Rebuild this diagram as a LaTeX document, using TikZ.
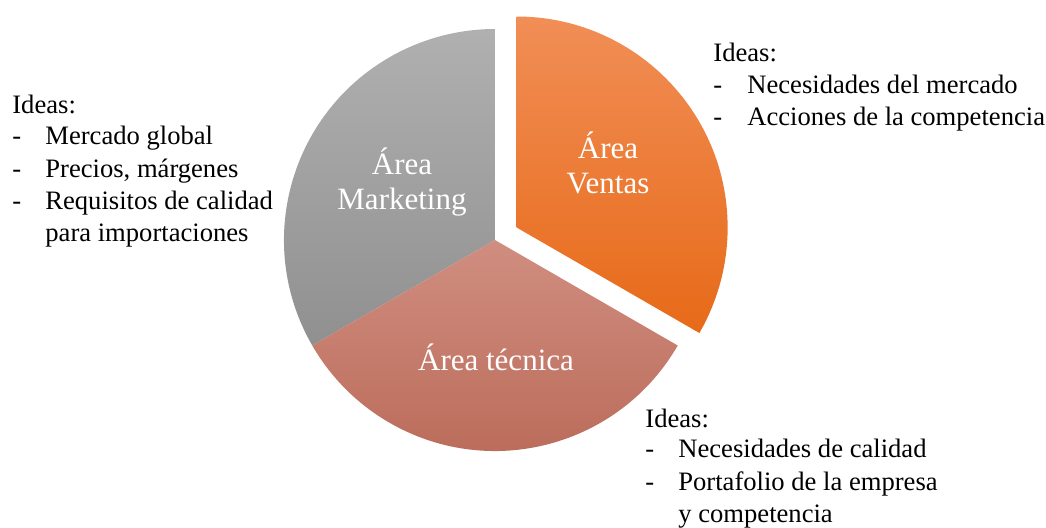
\documentclass[tikz,border=0pt]{standalone}
\usepackage{fontspec}
\setmainfont{Liberation Serif}
\usepackage{xcolor}
\definecolor{ventasA}{RGB}{241,142,86}
\definecolor{ventasB}{RGB}{231,106,24}
\definecolor{mktA}{RGB}{176,176,176}
\definecolor{mktB}{RGB}{144,144,144}
\definecolor{tecA}{RGB}{208,142,128}
\definecolor{tecB}{RGB}{185,104,86}

\begin{document}
\begin{tikzpicture}
  [x=0.5pt,y=0.5pt,every node/.style={inner sep=0pt,font=\fontsize{13.3}{16}\selectfont},
   slicetxt/.style={anchor=base,text=white,font=\fontsize{15.5}{17}\selectfont},
   idea/.style={anchor=base west}]
  \useasboundingbox (-495,-287) rectangle (551,240);

  % the three slices, ventas pulled out
  \shade [top color=mktA, bottom color=mktB] (0,0) -- (210:211) arc (210:90:211) -- cycle;
  \shade [top color=tecA, bottom color=tecB] (0,0) -- (-30:211) arc (-30:-150:211) -- cycle;
  \shade [top color=ventasA, bottom color=ventasB, shift={(30:25)}]
    (0,0) -- (90:211) arc (90:-30:211) -- cycle;

  \node [slicetxt] (mkA) at (-93,66) {Área};
  \node [slicetxt] (mkB) at (-93,31) {Marketing};
  \node [slicetxt] (veA) at (113,82) {Área};
  \node [slicetxt] (veB) at (113,47) {Ventas};
  \node [slicetxt] (tec) at (1,-130) {Área técnica};

  % ideas marketing
  \node [idea] (mk0) at (-483,127) {Ideas:};
  \foreach \y/\txt [count=\i] in {96/Mercado global,63/{Precios, márgenes},31/Requisitos de calidad}{
    \node [idea] (mkd\i) at (-483,\y) {-};
    \node [idea] (mk\i) at (-450,\y) {\txt};}
  \node [idea] (mk4) at (-450,-1) {para importaciones};

  % ideas ventas
  \node [idea] (ve0) at (218,179) {Ideas:};
  \foreach \y/\txt [count=\i] in {147/Necesidades del mercado,115/Acciones de la competencia}{
    \node [idea] (ved\i) at (218,\y) {-};
    \node [idea] (ve\i) at (252,\y) {\txt};}

  % ideas area tecnica
  \node [idea] (te0) at (150,-187) {Ideas:};
  \foreach \y/\txt [count=\i] in {-217/Necesidades de calidad,-250/Portafolio de la empresa}{
    \node [idea] (ted\i) at (150,\y) {-};
    \node [idea] (te\i) at (183,\y) {\txt};}
  \node [idea] (te3) at (183,-282) {y competencia};
\end{tikzpicture}
\end{document}
